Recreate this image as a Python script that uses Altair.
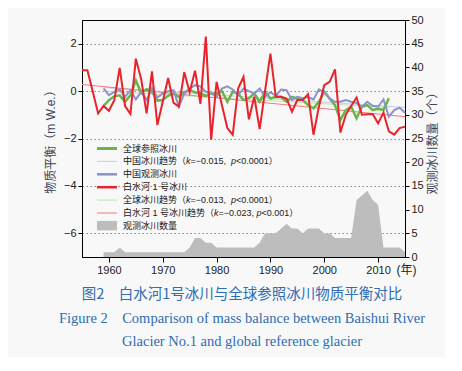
import altair as alt
import pandas as pd

# ---------------- data ----------------
red_years = list(range(1955, 2016))
red_vals = [0.88, 0.88, -0.02, -0.94, -0.63, -0.83, -0.38, 0.98, -0.63, -0.96,
            1.37, 0.5, -0.94, 0.83, -1.43, -0.45, 0.55, -0.5, -0.65, 0.8,
            -0.05, 0.86, -0.54, 2.3, -2.05, 0.39, -0.6, -1.56, -1.84, 0.11,
            0.6, -1.19, -0.24, -1.6, 0.0, 1.58, -0.24, -0.24, -0.31, -0.87,
            -0.38, -0.38, -0.13, -1.84, -0.66, 0.25, 0.39, 0.92, -1.75, -1.0,
            -0.63, -0.27, -1.0, -0.98, -0.97, -1.36, -0.91, -1.7, -1.84, -1.56,
            -1.5]

green_years = list(range(1959, 2013))
green_vals = [-0.63, -0.38, -0.22, -0.18, -0.45, -0.17, 0.45, -0.08, 0.08, -0.02,
              -0.4, -0.38, -0.2, -0.1, -0.25, -0.05, 0.05, -0.05, -0.1, -0.2,
              -0.1, -0.1, 0.0, -0.45, -0.03, -0.1, -0.38, -0.3, -0.1, -0.45,
              -0.03, -0.31, -0.24, -0.25, -0.45, -0.24, -0.31, -0.38, -0.59, -0.73,
              -0.45, -0.03, -0.31, -0.6, -1.22, -0.8, -0.66, -1.15, -0.66, -0.59,
              -0.8, -0.75, -0.8, -0.3]

china_years = list(range(1959, 2016))
china_vals = [0.11, -0.17, -0.03, 0.07, -0.24, 0.04, -0.35, -0.03, -0.38, 0.12,
              -0.27, -0.1, 0.0, 0.04, -0.66, -0.1, 0.1, 0.25, 0.2, -0.03,
              -0.1, -0.24, 0.11, 0.2, 0.07, -0.17, 0.11, 0.0, -0.1, 0.11,
              -0.24, -0.05, -0.2, 0.07, 0.04, -0.38, -0.24, -0.3, -0.25, -0.35,
              0.07, -0.05, -0.31, -0.45, -0.45, -0.38, -0.45, -0.5, -0.66, -0.45,
              -0.62, -0.66, -0.35, -1.08, -0.8, -0.7, -0.91]

count_years = list(range(1959, 2016))
count_vals = [1, 1, 1, 2, 1, 1, 1, 1, 1, 1,
              1, 1, 1, 1, 1, 1, 2, 4, 4, 3,
              3, 2, 2, 2, 2, 2, 2, 2, 2, 3,
              5, 5, 5, 6, 7, 6, 6, 5, 6, 6,
              6, 5, 5, 4, 4, 4, 4, 12, 13, 14,
              12, 11, 2, 2, 2, 2, 1]

red_trend_years = [1955, 2015]
red_trend_vals = [0.28, -1.08]
china_trend_years = [1959, 2015]
china_trend_vals = [0.15, -0.69]
green_trend_years = [1959, 2012]
green_trend_vals = [0.0, -0.69]

# ---------------- styles ----------------
W, H = 323, 237
RED = "#e8232b"
GREEN = "#6bb548"
CHINA = "#8c92cb"
RED_T = "#f27a7a"
GREEN_T = "#c2e2b4"
CHINA_T = "#c9cce9"
GRAY = "#bdbdbd"
BLUE = "#2e6db4"
FONT = "Liberation Sans, Noto Sans CJK SC"


def df(years, vals, name="value"):
    return pd.DataFrame({"year": years, name: vals})


x_enc = alt.X(
    "year:Q",
    scale=alt.Scale(domain=[1955, 2015], nice=False, zero=False),
    axis=alt.Axis(values=[1960, 1970, 1980, 1990, 2000, 2010], format="d",
                  tickSize=5, labelPadding=2, labelFontSize=11, labelFont=FONT,
                  labelColor="#222222", domainColor="black", tickColor="black",
                  grid=False, title="(年)", titleX=324, titleY=12.5,
                  titleAlign="center", titleBaseline="middle",
                  titleFontSize=12, titleFontWeight="normal", titleFont=FONT,
                  titleColor="#222222"),
)

y_left = alt.Y(
    "value:Q",
    scale=alt.Scale(domain=[-7, 3], nice=False, zero=False),
    axis=alt.Axis(orient="left", values=[-6, -4, -2, 0, 2], grid=True,
                  gridDash=[1.5, 2.5], gridColor="#8a8a8a", gridWidth=1,
                  tickSize=4, labelFontSize=11, labelFont=FONT, labelColor="#222222",
                  domainColor="black", tickColor="black",
                  title="物质平衡（m W.e.）", titleFont=FONT, titleFontSize=12,
                  titleFontWeight="normal", titleColor="#3b4658", titlePadding=6),
)


def line(data, color, width):
    return alt.Chart(data).mark_line(color=color, strokeWidth=width).encode(
        x=x_enc, y=y_left)


trend_green = line(df(green_trend_years, green_trend_vals), GREEN_T, 1)
trend_china = line(df(china_trend_years, china_trend_vals), CHINA_T, 1)
trend_red = line(df(red_trend_years, red_trend_vals), RED_T, 1)
green_line = line(df(green_years, green_vals), GREEN, 2.5)
china_line = line(df(china_years, china_vals), CHINA, 2)
red_line = line(df(red_years, red_vals), RED, 2)

area = alt.Chart(df(count_years, count_vals, "count")).mark_area(
    color=GRAY, opacity=1).encode(
    x=x_enc,
    y=alt.Y("count:Q", scale=alt.Scale(domain=[0, 50], nice=False, zero=True),
            axis=alt.Axis(orient="right", values=list(range(0, 51, 5)), grid=False,
                          tickSize=4, labelFontSize=11, labelFont=FONT,
                          labelColor="#222222", domainColor="black", tickColor="black",
                          title=None)),
)

# ---------------- legend (drawn inside plot) ----------------
dummy = pd.DataFrame({"d": [0]})
AW = {" ": 278, ".": 278, ",": 278, "=": 584, "<": 584, "\u2212": 584,
      "k": 500, "p": 556}


def text_width(s, fs):
    w = 0
    for c in s:
        if c.isdigit():
            w += 556
        elif c in AW:
            w += AW[c]
        else:
            w += 1000
    return w * fs / 1000.0


LFS = 9
legend_items = [
    ("line", GREEN, 3, [("全球参照冰川", False)]),
    ("line", CHINA_T, 1, [("中国冰川趋势（", False), ("k", True), (" =\u22120.015, ", False),
                          ("p", True), ("<0.0001）", False)]),
    ("line", CHINA, 2.5, [("中国观测冰川", False)]),
    ("line", RED, 2.5, [("白水河 1 号冰川", False)]),
    ("line", GREEN_T, 1, [("全球冰川趋势（", False), ("k", True), (" =\u22120.013, ", False),
                          ("p", True), ("<0.0001）", False)]),
    ("line", RED_T, 1, [("白水河 1 号冰川趋势（", False), ("k", True), (" =\u22120.023,", False),
                        ("p", True), ("<0.001）", False)]),
    ("rect", GRAY, None, [("观测冰川数量", False)]),
]

decor = []
for i, (kind, color, width, segs) in enumerate(legend_items):
    yy = 128.5 + 12.9 * i
    if kind == "line":
        decor.append(alt.Chart(dummy).mark_rule(color=color, strokeWidth=width).encode(
            x=alt.value(15), x2=alt.value(35), y=alt.value(yy)))
    else:
        decor.append(alt.Chart(dummy).mark_rect(color=color).encode(
            x=alt.value(15), x2=alt.value(35), y=alt.value(yy - 5), y2=alt.value(yy + 4.5)))
    xx = 41
    for s, it in segs:
        decor.append(alt.Chart(dummy).mark_text(
            align="left", baseline="middle", fontSize=LFS, font=FONT,
            fontStyle="italic" if it else "normal", color="#1a1a1a").encode(
            x=alt.value(xx), y=alt.value(yy), text=alt.value(s)))
        xx += text_width(s, LFS)

# right axis title (reads bottom-to-top)
decor.append(alt.Chart(dummy).mark_text(
    align="center", baseline="middle", fontSize=12, font=FONT, angle=270,
    color="#3b4658").encode(
    x=alt.value(W + 28), y=alt.value(H / 2 + 2), text=alt.value("观测冰川数量（个）")))

# ---------------- caption ----------------
captions = [
    ("图2\u3000白水河1号冰川与全球参照冰川物质平衡对比", 275, "Noto Sans CJK SC", 14.5),
    ("Figure 2\u2003Comparison of mass balance between Baishui River", 298.5,
     "Liberation Serif", 14.5),
    ("Glacier No.1 and global reference glacier", 321.5, "Liberation Serif", 14.5),
]
for s, yy, f, fs in captions:
    decor.append(alt.Chart(dummy).mark_text(
        align="center", baseline="middle", fontSize=fs, font=f, color=BLUE).encode(
        x=alt.value(160), y=alt.value(yy), text=alt.value(s)))

lines_layer = alt.layer(trend_green, trend_china, trend_red, green_line, china_line,
                        red_line, *decor)

chart = alt.layer(area, lines_layer).resolve_scale(y="independent").properties(
    width=W, height=H,
    padding={"left": 74, "top": 12, "right": 40, "bottom": 100},
    autosize=alt.AutoSizeParams(type="none"),
    background="#f8f8f8",
).configure_view(stroke="black", strokeWidth=1)

chart.save("out.html", embed_options={"renderer": "svg", "actions": False})
